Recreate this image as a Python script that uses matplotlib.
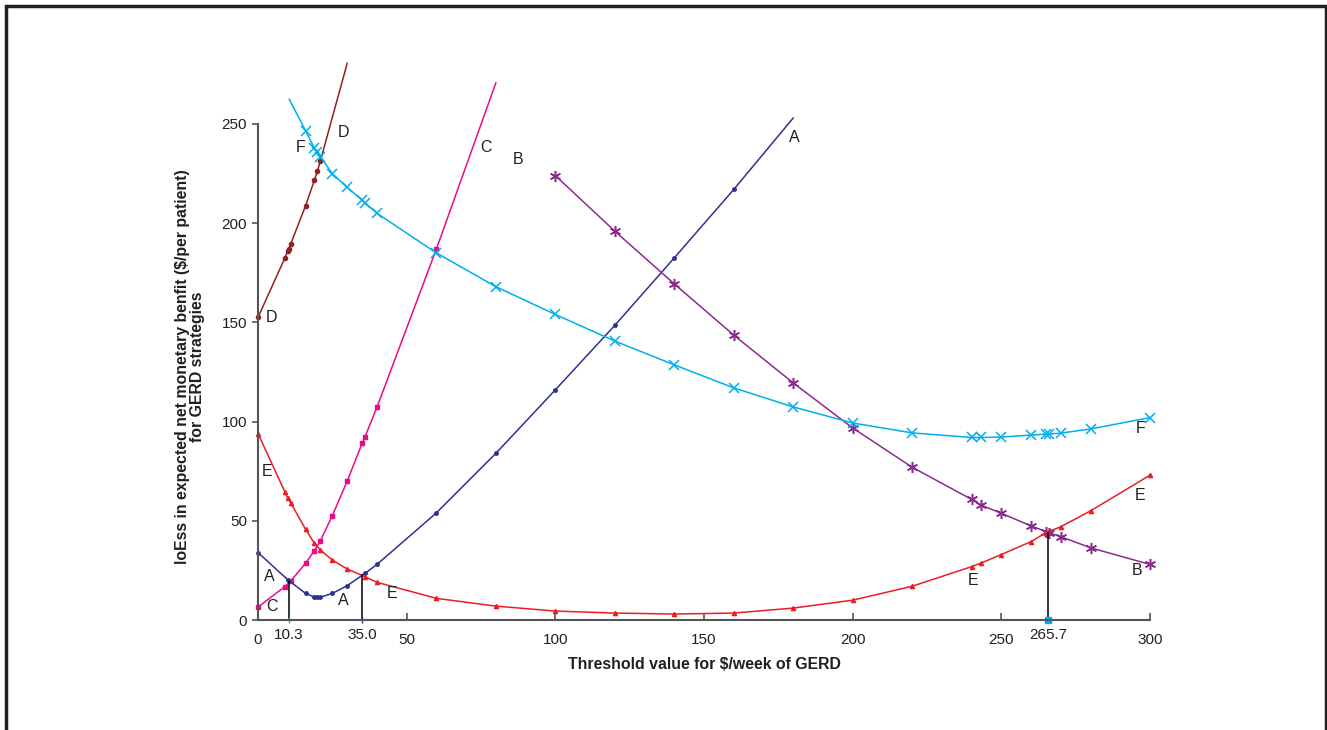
import matplotlib.pyplot as plt
import matplotlib.transforms as mtransforms
from matplotlib.patches import Rectangle

plt.rcParams['font.family'] = ['Liberation Sans', 'DejaVu Sans']

# threshold ($/week) and loss values
a_x = [0, 10, 16, 19, 20, 21, 25, 30, 36, 40, 60, 80, 100, 120, 140, 160, 180]
a_y = [34, 20.3, 13.4, 11.5, 11.4, 11.5, 13.4, 17.3, 23.5, 28, 54, 84, 116, 148.5, 182.5, 217, 253]

b_x = [100, 120, 140, 160, 180, 200, 220, 240, 243, 250, 260, 265, 266, 270, 280, 300]
b_y = [224, 196, 169.4, 143.6, 119.5, 96.8, 77, 60.8, 58, 53.8, 47.4, 44.6, 44.0, 42, 36.4, 28]

c_x = [0, 9, 11, 16, 19, 21, 25, 30, 35, 36, 40, 60, 80]
c_y = [6.5, 16.8, 19.6, 28.6, 35, 40, 52.6, 70, 89, 92.4, 107.2, 187, 270.7]

d_x = [0, 9, 10, 10.3, 11, 16, 19, 20, 21, 30]
d_y = [152.5, 182.3, 186.2, 186.8, 189.5, 208.8, 221.8, 226.3, 231.5, 280.6]

e_x = [0, 9, 10, 11, 16, 19, 21, 25, 30, 36, 40, 60, 80, 100, 120, 140, 160, 180,
       200, 220, 240, 243, 250, 260, 265, 270, 280, 300]
e_y = [94, 64.7, 61.3, 59.1, 45.7, 38.6, 35.3, 30.2, 25.7, 21.8, 19, 10.9, 7, 4.5, 3.5,
       3, 3.5, 6, 10, 17, 26.9, 28.6, 33, 39.5, 44, 47, 55, 73]

f_x = [10.5, 16, 19, 20, 21, 25, 30, 35, 36, 40, 60, 80, 100, 120, 140, 160, 180, 200,
       220, 240, 243, 250, 260, 265, 266, 270, 280, 300]
f_y = [262.5, 246.6, 237.7, 236, 233.5, 225, 218, 211.7, 210.3, 205, 185, 168, 154,
       140.6, 128.6, 117, 107.4, 99.3, 94.3, 92, 92, 92.2, 93.2, 93.7, 93.7, 94.2, 96.3, 102]

cut_x = [10.3, 35.0, 265.7]
cut_y = [19.5, 23.3, 44.5]
cut_labels = ['10.3', '35.0', '265.7']

# curve letters: (text, x, y)
curve_labels = [('D', 28.6, 245.5), ('D', 4.7, 152.7),
                ('F', 14.5, 238.4), ('F', 296.7, 96.3),
                ('C', 76.7, 238.4), ('C', 4.7, 7),
                ('B', 87.5, 232), ('B', 295.7, 24.7),
                ('A', 180.2, 243.4), ('A', 3.7, 21.7), ('A', 28.6, 9.6),
                ('E', 3.0, 74.6), ('E', 45.0, 13.6), ('E', 240.5, 20), ('E', 296.7, 62.5)]

txt = '#231f20'
fig = plt.figure(figsize=(13.27, 7.30), dpi=100)
ax = fig.add_axes([258/1327, 110/730, 892/1327, 559.5/730])

lw = 1.1
ax.plot(d_x, d_y, color='#922020', lw=lw, marker='o', ms=3, markevery=list(range(len(d_x) - 1)), clip_on=False)
ax.plot(c_x, c_y, color='#ec0a8c', lw=lw, marker='s', ms=3.5, markevery=list(range(len(c_x) - 1)), clip_on=False)
ax.plot(a_x, a_y, color='#2e3192', lw=lw, marker='o', ms=2.5, markevery=list(range(len(a_x) - 1)), clip_on=False)
ax.plot(b_x, b_y, color='#8b2a8f', lw=lw, marker=(6, 2, 0), ms=8, mew=1.1, clip_on=False)
ax.plot(e_x, e_y, color='#ed1c24', lw=lw, marker='^', ms=3, clip_on=False)
ax.plot(f_x, f_y, color='#00aeef', lw=lw, marker='x', ms=7, mew=1.1, markevery=list(range(1, len(f_x))), clip_on=False)

ax.vlines(cut_x, 0, cut_y, color='black', lw=1.1)
ax.plot(cut_x[0], 0, marker='|', color='#00aeef', ms=5, clip_on=False)
ax.plot(cut_x[1], 0, marker='|', color='#2e3192', ms=5, clip_on=False)
ax.plot(cut_x[2], 0, marker='s', color='#00aeef', ms=4, clip_on=False)

for s, x, y in curve_labels:
    ax.text(x, y, s, fontsize=11.5, color=txt, ha='center', va='center')

trans = mtransforms.blended_transform_factory(ax.transData, ax.transAxes)
for x, s in zip(cut_x, cut_labels):
    ax.annotate(s, xy=(x, 0), xycoords=trans, xytext=(0, -6), textcoords='offset points',
                ha='center', va='top', fontsize=11, color=txt)

ax.set_xlim(0, 300)
ax.set_ylim(0, 282)
ax.set_xticks([0, 50, 100, 150, 200, 250, 300])
ax.set_yticks([0, 50, 100, 150, 200, 250])
ax.tick_params(axis='x', direction='in', length=5, width=1.2, pad=9.5, labelsize=11,
               colors='#555555', labelcolor=txt)
ax.tick_params(axis='y', direction='out', length=4, width=1.2, pad=4, labelsize=11,
               colors='#555555', labelcolor=txt)
for side in ['top', 'right']:
    ax.spines[side].set_visible(False)
ax.spines['left'].set_bounds(0, 250)
for side in ['left', 'bottom']:
    ax.spines[side].set_color('#555555')
    ax.spines[side].set_linewidth(1.5)

ax.set_xlabel('Threshold value for $/week of GERD', fontsize=11.4, fontweight='bold', color=txt, labelpad=7)
ax.set_ylabel('loEss in expected net monetary benfit ($/per patient)\nfor GERD strategies',
              fontsize=11.4, fontweight='bold', color=txt, linespacing=1.05)
ax.yaxis.set_label_coords(-0.059, 0.452)

fig.patches.append(Rectangle((5.5/1327, -0.05), 1320/1327, 1.05 - 6/730, transform=fig.transFigure,
                             fill=False, edgecolor=txt, lw=2.5))

fig.savefig('out.png', dpi=100)
